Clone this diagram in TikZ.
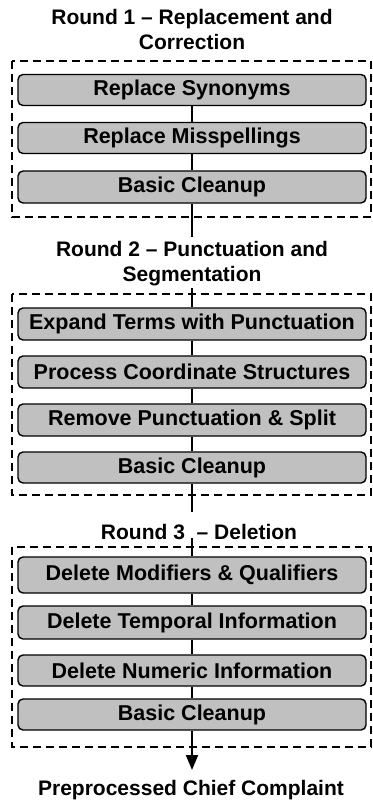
\documentclass[tikz,border=0pt]{standalone}
\usepackage{fontspec}
\setmainfont{Liberation Sans}
\usetikzlibrary{arrows.meta}
\definecolor{boxgray}{HTML}{C0C0C0}
\tikzset{
  stepbox/.style={draw=black, fill=boxgray, line width=1.4pt, rounded corners=5pt,
    minimum width=348pt, minimum height=31pt, inner sep=0pt,
    font=\fontsize{21.5}{25}\selectfont\bfseries},
  titletext/.style={align=center, inner sep=0pt, font=\fontsize{21}{25}\selectfont\bfseries},
  roundframe/.style={draw=black, line width=2pt, dash pattern=on 8pt off 5pt},
  link/.style={draw=black, line width=2pt}
}
\begin{document}
\begin{tikzpicture}[x=1pt,y=-1pt]
\useasboundingbox (0,0) rectangle (372,800);
% frames
\draw[roundframe] (12,61) rectangle (371,217);
\draw[roundframe] (12,294) rectangle (371,495);
\draw[roundframe] (12,547) rectangle (371,747);
% titles
\node[titletext] (t1) at (192,29.5) {Round 1 -- Replacement and\\Correction};
\node[titletext] (t2) at (192,263.5) {Round 2 -- Punctuation and\\Segmentation};
\node[titletext] (t3) at (199,532) {Round 3\ \ -- Deletion};
\node[titletext] (t4) at (191,790) {Preprocessed Chief Complaint};
% round 1
\node[stepbox] (b11) at (192,90) {Replace Synonyms};
\node[stepbox] (b12) at (192,138) {Replace Misspellings};
\node[stepbox, minimum height=32pt] (b13) at (192,187) {Basic Cleanup};
% round 2
\node[stepbox, minimum height=32pt] (b21) at (192,324) {Expand Terms with Punctuation};
\node[stepbox, minimum height=32pt] (b22) at (192,372) {Process Coordinate Structures};
\node[stepbox, minimum height=32pt] (b23) at (192,420) {Remove Punctuation \& Split};
\node[stepbox] (b24) at (192,467.5) {Basic Cleanup};
% round 3
\node[stepbox, minimum height=36pt] (b31) at (192,575) {Delete Modifiers \& Qualifiers};
\node[stepbox, minimum height=33pt] (b32) at (192,622.5) {Delete Temporal Information};
\node[stepbox] (b33) at (192,670.5) {Delete Numeric Information};
\node[stepbox] (b34) at (192,714.5) {Basic Cleanup};
% connector endpoints
\coordinate (e1) at (192,237);
\coordinate (s2) at (192,288);
\coordinate (e2) at (192,512);
\coordinate (s3) at (192,538);
\coordinate (e3) at (192,770);
% connectors
\draw[link] (b11.south) -- (b12.north);
\draw[link] (b12.south) -- (b13.north);
\draw[link] (b13.south) -- (e1);
\draw[link] (s2) -- (b21.north);
\draw[link] (b21.south) -- (b22.north);
\draw[link] (b22.south) -- (b23.north);
\draw[link] (b23.south) -- (b24.north);
\draw[link] (b24.south) -- (e2);
\draw[link] (s3) -- (b31.north);
\draw[link] (b31.south) -- (b32.north);
\draw[link] (b32.south) -- (b33.north);
\draw[link] (b33.south) -- (b34.north);
\draw[link, -{Triangle[width=12pt,length=15pt]}] (b34.south) -- (e3);
\end{tikzpicture}
\end{document}
